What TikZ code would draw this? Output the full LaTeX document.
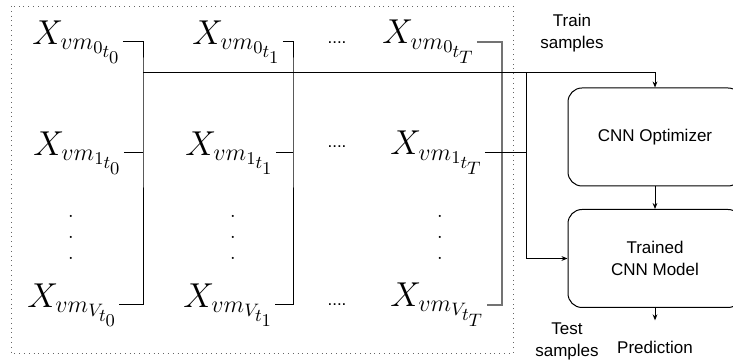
\documentclass[tikz,border=0pt]{standalone}
\usepackage{fontspec}
\newfontfamily\arialfont{Liberation Sans}
\usetikzlibrary{arrows.meta,positioning,calc}
\newcommand{\tallvdots}{\vbox{\baselineskip10.5pt\lineskiplimit0pt\hbox{.}\hbox{.}\hbox{.}}}

\begin{document}
\begin{tikzpicture}[
    x=0.5pt, y=-0.5pt,
    >={Stealth[length=3pt,width=2.4pt]},
    var/.style={anchor=west, inner sep=0pt, font=\fontsize{18}{20}\selectfont},
    block/.style={rectangle, draw, line width=0.5pt, rounded corners=7pt,
                  minimum width=87pt, minimum height=49pt, align=center,
                  font=\arialfont\fontsize{8.5}{11}\selectfont},
    lbl/.style={align=center, inner sep=0pt, font=\arialfont\fontsize{8.5}{11}\selectfont},
    wire/.style={line width=0.5pt},
    arr/.style={->, line width=0.5pt},
    last/.style={line width=0.9pt, black!55}
]
    \useasboundingbox (0,0) rectangle (733,362);

    % frame round the samples
    \draw[dotted, black!60] (11,6) rectangle (513,353);

    \node[var] (a0) at (32,42)  {$X_{vm_{0_{t_0}}}$};
    \node[var] (a1) at (33,153) {$X_{vm_{1_{t_0}}}$};
    \node[var] (aV) at (27,305) {$X_{vm_{V_{t_0}}}$};
    \node[var] (b0) at (192,42) {$X_{vm_{0_{t_1}}}$};
    \node[var] (b1) at (185,153) {$X_{vm_{1_{t_1}}}$};
    \node[var] (bV) at (183,305) {$X_{vm_{V_{t_1}}}$};
    \node[var] (c0) at (382,42) {$X_{vm_{0_{t_T}}}$};
    \node[var] (c1) at (390,153) {$X_{vm_{1_{t_T}}}$};
    \node[var] (cV) at (390,305) {$X_{vm_{V_{t_T}}}$};

    \node[inner sep=0pt] (da) at (71,237)  {\tallvdots};
    \node[inner sep=0pt] (db) at (233,237) {\tallvdots};
    \node[inner sep=0pt] (dc) at (440,237) {\tallvdots};
    \node[lbl] (h0) at (337,43)  {....};
    \node[lbl] (h1) at (337,147) {....};
    \node[lbl] (hV) at (337,305) {....};

    \node[block] (opt)     at (655,137)   {CNN Optimizer};
    \node[block] (trained) at (655,258.5) {Trained\\CNN Model};

    \node[lbl] (train) at (572,33)  {Train\\samples};
    \node[lbl] (test)  at (567,341) {Test\\samples};
    \node[lbl] (pred)  at (655,347) {Prediction};

    \coordinate (j0) at (143,73);
    \coordinate (j1) at (293,73);
    \coordinate (jT) at (502,73);
    \coordinate (js) at (526,73);

    \draw[wire] (a0.east) -| (j0) |- (aV.east);
    \draw[wire] (a1.east) -- (a1.east -| j0);
    \draw[wire] (b0.east) -| (j1) |- (bV.east);
    \draw[wire] (b1.east) -- (b1.east -| j1);
    \draw[last] (c0.east) -| (jT) |- (cV.east);
    \draw[wire] (c1.east) -- (c1.east -| js);

    \draw[arr] (j0) -| (opt.north);
    \draw[arr] (js) |- (trained.west);
    \draw[arr] (opt) -- (trained);
    \draw[arr, shorten >=10pt] (trained) -- (pred);
\end{tikzpicture}
\end{document}
